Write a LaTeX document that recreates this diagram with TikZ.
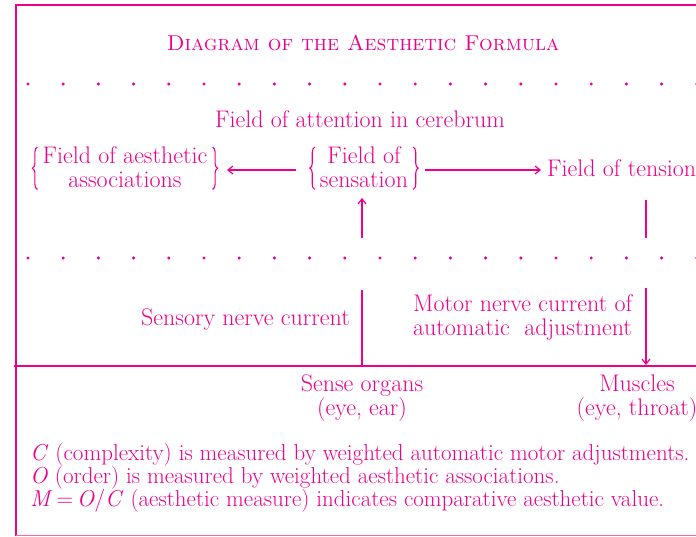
\documentclass[tikz,border=0pt]{standalone}
\usepackage{fontspec}
\usetikzlibrary{arrows.meta,decorations.pathreplacing}
\definecolor{mag}{RGB}{238,0,140}
\begin{document}
\begin{tikzpicture}[x=1pt,y=-1pt,
  every node/.style={text=mag,inner sep=0pt,font=\fontsize{24}{24}\selectfont},
  lbl/.style={align=center},
  conn/.style={draw=mag,line width=1.4pt},
  arr/.style={conn,-{Straight Barb[length=5pt,width=8pt,line width=1.2pt]}},
  curly/.style={draw=mag,line width=1.1pt,decorate,decoration={brace,amplitude=5pt}},
  dotrow/.style={fill=mag}]
\useasboundingbox (0,0) rectangle (696,536);
% frame
\draw[mag,line width=2.6pt] (696,5) -- (16,5) -- (16,536);
\draw[mag!60,line width=0.8pt] (16,535) -- (696,535);
% title
\node[anchor=base] (title) at (363,50) {\fontsize{21.5}{24}\selectfont\textsc{Diagram of the Aesthetic Formula}};
% dotted rows
\foreach \i in {0,...,19} {
  \fill[dotrow] (28+35.2*\i,84) circle (1.7);
  \fill[dotrow] (28+35.2*\i,258) circle (1.7);
}
% cerebrum
\node[anchor=base] (attn) at (360,127) {Field of attention in cerebrum};
\node[lbl,anchor=north] (assoc) at (125,146) {Field of aesthetic\\associations};
\node[lbl,anchor=north] (sens) at (364,146) {Field of\\sensation};
\draw[curly] ([xshift=-5pt,yshift=-2pt]assoc.south west) -- ([xshift=-5pt,yshift=-1pt]assoc.north west);
\draw[curly] ([xshift=5pt,yshift=-1pt]assoc.north east) -- ([xshift=5pt,yshift=-2pt]assoc.south east);
\draw[curly] ([xshift=-5pt,yshift=-2pt]sens.south west) -- ([xshift=-5pt,yshift=-1pt]sens.north west);
\draw[curly] ([xshift=5pt,yshift=-1pt]sens.north east) -- ([xshift=5pt,yshift=-2pt]sens.south east);
\node[anchor=base west] (tens) at (547,176) {Field of tension};
\coordinate (ar) at (227,170);
\coordinate (al) at (296,170);
\coordinate (br) at (425,170);
\coordinate (bl) at (541,170);
\draw[arr] (al) -- (ar);
\draw[arr] (br) -- (bl);
\coordinate (sup) at (362,238);
\coordinate (sdn) at (362,198);
\draw[arr] (sup) -- (sdn);
\coordinate (tt) at (646,200);
\coordinate (tb) at (646,238);
\draw[conn] (tt) -- (tb);
% nerves
\coordinate (hl) at (14,366);
\coordinate (hr) at (696,366);
\draw[mag,line width=2.2pt] (hl) -- (hr);
\coordinate (st) at (362,290);
\coordinate (sb) at (362,366);
\draw[conn] (st) -- (sb);
\coordinate (mt) at (646,288);
\coordinate (mb) at (646,365);
\draw[arr] (mt) -- (mb);
\node[anchor=base east] (sensory) at (350,325) {Sensory nerve current};
\node[anchor=north west,align=left] (motor) at (413,294) {Motor nerve current of\\automatic\ \ adjustment};
\node[lbl,anchor=north] (organs) at (362,375) {Sense organs\\(eye, ear)};
\node[lbl,anchor=north] (muscles) at (637,375) {Muscles\\(eye, throat)};
% legend
\node[anchor=north west,align=left,font=\fontsize{23}{23}\selectfont] (legend) at (30,443) {\textit{C} (complexity) is measured by weighted automatic motor adjustments.\\
\textit{O} (order) is measured by weighted aesthetic associations.\\
\textit{M}\,=\,\textit{O}/\textit{C} (aesthetic measure) indicates comparative aesthetic value.};
\end{tikzpicture}
\end{document}
